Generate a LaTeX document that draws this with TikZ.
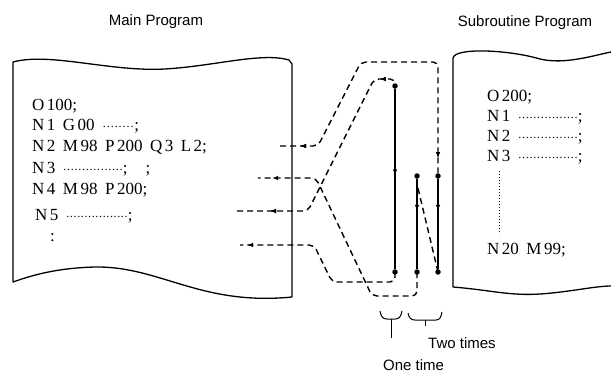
\documentclass[tikz,border=0pt]{standalone}
\usepackage{fontspec}
\setmainfont{Liberation Serif}
\setsansfont{Liberation Sans}
\usetikzlibrary{decorations.markings,arrows.meta}

\newcommand\cgap{\kern2.5pt}
\newcommand\codefont{\fontsize{17}{17}\selectfont\spaceskip=7.5pt\relax}
\newcommand\dotrun[1]{\raisebox{2.5pt}{\makebox[#1]{\fontsize{12}{12}\selectfont\xleaders\hbox to 3.6pt{\hss.\hss}\hfill}}}

\begin{document}
\begin{tikzpicture}[x=1pt, y=-1pt, >=latex,
    fwd/.style={postaction={decorate}, decoration={markings,
        mark=at position #1 with {\arrow{Latex[length=6pt,width=4.5pt]}}}},
    bwd/.style={postaction={decorate}, decoration={markings,
        mark=at position #1 with {\arrowreversed{Latex[length=6pt,width=4.5pt]}}}}]
  \tikzstyle{code}=[anchor=west, inner sep=0pt, font=\codefont]
  \tikzstyle{ttl}=[inner sep=0pt, font=\sffamily\fontsize{15}{15}\selectfont]
  \tikzstyle{page}=[line width=1.3pt, line join=round]
  \tikzstyle{run}=[line width=1.4pt, dash pattern=on 6pt off 4pt, rounded corners=5pt]
  \tikzstyle{seq}=[line width=1.4pt]
  \tikzstyle{blob}=[circle, fill, inner sep=0pt, minimum size=5.5pt]

  \useasboundingbox (0,0) rectangle (611,373);

  % ================= titles =================
  \node[ttl] (mtitle) at (156,22) {Main Program};
  \node[ttl] (stitle) at (525,23) {Subroutine Program};

  % ================= main program sheet =================
  \draw[page] (13,62) .. controls (50,52) and (110,72) .. (165,69)
              .. controls (215,66) and (262,52) .. (289,60) -- (292,64)
              -- (292,297) .. controls (200,306) and (160,266) .. (95,267)
              .. controls (55,268) and (30,276) .. (13,282) -- cycle;
  \node[code] (m0) at (32,106) {O\cgap100;};
  \node[code] (m1) at (32,126) {N\cgap1 G\cgap00 \dotrun{32pt};};
  \node[code] (m2) at (32,147) {N\cgap2 M\cgap98 P\cgap200 Q\cgap3 L\cgap2;};
  \node[code] (m3) at (32,169) {N\cgap3 \dotrun{60pt};\hspace{18pt};};
  \node[code] (m4) at (32,190) {N\cgap4 M\cgap98 P\cgap200;};
  \node[code] (m5) at (35,216) {N\cgap5 \dotrun{62pt};};
  \node[code] (m6) at (50,238) {:};

  % ================= subroutine sheet (runs off the right side) =================
  \draw[page] (611,52) .. controls (595,55) and (565,65) .. (540,59)
              .. controls (510,50) and (455,47) .. (453,58) -- (453,287)
              .. controls (490,290) and (510,296) .. (540,294)
              .. controls (570,292) and (595,286) .. (611,286);
  \node[code] (s0) at (487,97)  {O\cgap200;};
  \node[code] (s1) at (487,117) {N\cgap1 \dotrun{60pt};};
  \node[code] (s2) at (487,137) {N\cgap2 \dotrun{60pt};};
  \node[code] (s3) at (487,157) {N\cgap3 \dotrun{60pt};};
  \node[code] (s20) at (487,250) {N\cgap20 M\cgap99;};
  \draw[line width=1pt, dash pattern=on 1pt off 2pt] (499,171) -- (499,234);

  % ================= jump points and block marks =================
  \coordinate (n2) at (280,146);
  \coordinate (n3) at (258,178);
  \coordinate (n4) at (237,211);
  \coordinate (n5) at (240,245);
  \node[blob] (o1) at (395,86)  {};
  \node[blob] (o2) at (395,272) {};
  \node[blob] (ta) at (417,176) {};
  \node[blob] (tb) at (417,272) {};
  \node[blob] (tc) at (438,176) {};
  \node[blob] (td) at (438,272) {};

  % N2: call, repeat from N3 two times
  \draw[run, bwd=20pt, fwd=-18pt] (n2) -- (318,146) -- (361,62) -- (438,62) -- (tc.center);
  \draw[seq, fwd=32pt] (tc) -- (td);
  \draw[run] (td.center) -- (417,184);
  \draw[seq, fwd=32pt] (ta) -- (tb);
  \draw[run, fwd=-14pt] (tb.center) -- (417,296) -- (372,296) -- (316,178) -- (n3);

  % N4: call one time
  \draw[run, bwd=33pt, bwd=-20pt] (n4) -- (308,211) -- (374,79) -- (395,79) -- (o1.center);
  \draw[seq, fwd=0.48] (o1) -- (o2);
  \draw[run, fwd=-7pt] (o2.center) -- (395,282) -- (332,282) -- (314,245) -- (n5);

  % ================= braces =================
  \draw[line width=1pt] (380,311) .. controls (381,317) and (383,319) .. (387,319)
                        -- (395,319) .. controls (399,319) and (401,317) .. (402,311);
  \draw[line width=1pt] (391,319) -- (391,338);
  \draw[line width=1pt] (408,313) .. controls (409,318) and (411,320) .. (415,320)
                        -- (436,320) .. controls (440,320) and (441,317) .. (442,312);
  \draw[line width=1pt] (425,320) -- (425,326);
  \node[ttl, anchor=west] (two) at (428,343) {Two times};
  \node[ttl, anchor=west] (one) at (383,365) {One time};
\end{tikzpicture}
\end{document}
